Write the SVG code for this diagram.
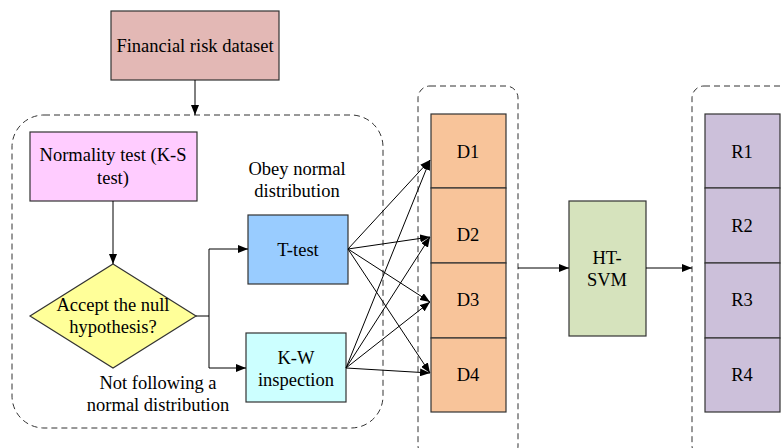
<svg xmlns="http://www.w3.org/2000/svg" width="783" height="448" viewBox="0 0 783 448">
<style>
text{font-family:'Liberation Serif','Times New Roman',serif;font-size:18.5px;fill:#000;text-anchor:middle}
.b{stroke:#333;stroke-width:1.2}
.d{fill:none;stroke:#333;stroke-width:1;stroke-dasharray:6,4}
.c{fill:none;stroke:#000;stroke-width:1}
</style>
<defs>
<marker id="a" markerWidth="10" markerHeight="8" refX="10" refY="4" orient="auto" markerUnits="userSpaceOnUse">
<path d="M0,0 L10,4 L0,8 z" fill="#000"/>
</marker>
</defs>
<g id="group1"><rect class="d" x="12" y="115" width="371" height="313" rx="32"/></g>
<g id="group2"><rect class="d" x="418" y="86" width="100" height="372" rx="12"/></g>
<g id="group3"><rect class="d" x="692" y="86" width="110" height="372" rx="12"/></g>
<g id="dataset"><rect class="b" x="111" y="11" width="168" height="69" fill="#e3b8b5"/><text x="195" y="52">Financial risk dataset</text></g>
<g id="normality"><rect class="b" x="30" y="132" width="167" height="69" fill="#ffccff"/><text x="113" y="161">Normality test (K-S</text><text x="113" y="184">test)</text></g>
<g id="decision"><polygon class="b" points="113,264 196,316 113,368 30,316" fill="#ffff99"/><text x="113" y="311">Accept the null</text><text x="113" y="333">hypothesis?</text></g>
<g id="ttest"><rect class="b" x="248" y="215" width="100" height="69" fill="#99ccff"/><text x="298" y="256">T-test</text></g>
<g id="kw"><rect class="b" x="246" y="333" width="100" height="69" fill="#ccffff"/><text x="296" y="364">K-W</text><text x="296" y="386">inspection</text></g>
<g id="labels"><text x="297" y="175">Obey normal</text><text x="297" y="197">distribution</text><text x="158" y="389">Not following a</text><text x="158" y="411">normal distribution</text></g>
<g id="D"><rect class="b" x="431" y="114" width="75" height="74" fill="#f8c49a"/><rect class="b" x="431" y="188" width="75" height="75" fill="#f8c49a"/><rect class="b" x="431" y="263" width="75" height="75" fill="#f8c49a"/><rect class="b" x="431" y="338" width="75" height="74" fill="#f8c49a"/>
<text x="468" y="158">D1</text><text x="468" y="241">D2</text><text x="468" y="306">D3</text><text x="468" y="381">D4</text></g>
<g id="htsvm"><rect class="b" x="569" y="201" width="77" height="135" fill="#d6e3bd"/><text x="607" y="264">HT-</text><text x="607" y="286">SVM</text></g>
<g id="R"><rect class="b" x="705" y="114" width="75" height="74" fill="#ccc0da"/><rect class="b" x="705" y="188" width="75" height="75" fill="#ccc0da"/><rect class="b" x="705" y="263" width="75" height="75" fill="#ccc0da"/><rect class="b" x="705" y="338" width="75" height="74" fill="#ccc0da"/>
<text x="742" y="158">R1</text><text x="742" y="232">R2</text><text x="742" y="306">R3</text><text x="742" y="381">R4</text></g>
<g id="connectors">
<path class="c" d="M195,80 V115" marker-end="url(#a)"/>
<path class="c" d="M113,201 V264" marker-end="url(#a)"/>
<path class="c" d="M196,316 H209" stroke-width="1.5"/>
<path class="c" d="M209,316 V249 H248" marker-end="url(#a)"/>
<path class="c" d="M209,316 V368 H246" marker-end="url(#a)"/>
<path class="c" d="M348,249 L430,160" marker-end="url(#a)"/>
<path class="c" d="M348,249 L430,237" marker-end="url(#a)"/>
<path class="c" d="M348,249 L430,302" marker-end="url(#a)"/>
<path class="c" d="M348,249 L430,373" marker-end="url(#a)"/>
<path class="c" d="M346,368 L430,160" marker-end="url(#a)"/>
<path class="c" d="M346,368 L430,237" marker-end="url(#a)"/>
<path class="c" d="M346,368 L430,302" marker-end="url(#a)"/>
<path class="c" d="M346,368 L430,373" marker-end="url(#a)"/>
<path class="c" d="M518,268 H569" marker-end="url(#a)"/>
<path class="c" d="M646,268 H692" marker-end="url(#a)"/>
</g>
</svg>
